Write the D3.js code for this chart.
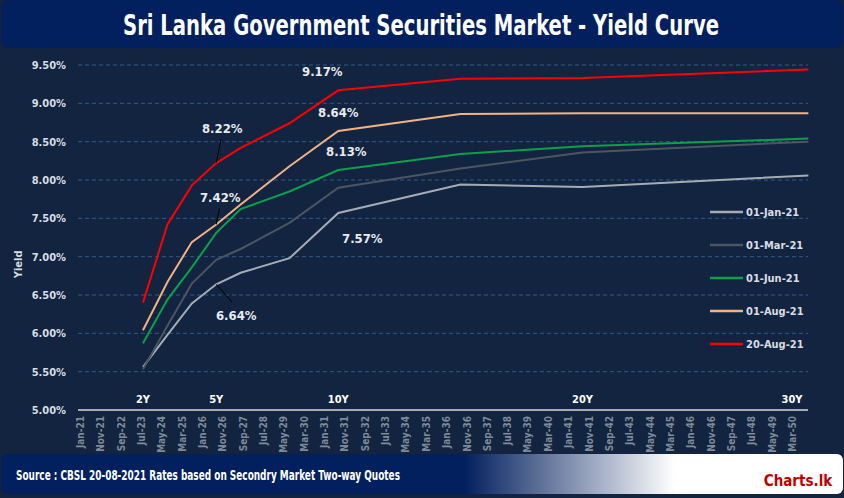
<!DOCTYPE html>
<html><head><meta charset="utf-8">
<script src="https://cdn.jsdelivr.net/npm/d3@7"></script>
<style>
body{margin:0;background:#fff;}
text{font-family:"DejaVu Sans Condensed","Liberation Sans Narrow",sans-serif;font-stretch:condensed;font-weight:bold;}
</style></head><body><div id="chart"></div>
<script>
// tenor dates and yields
var dates = ['2023-08','2024-08','2025-08','2026-08','2027-08','2029-08','2031-08','2036-08','2041-08','2050-11'];
var seriesNames = ['01-Jan-21','01-Mar-21','01-Jun-21','01-Aug-21','20-Aug-21'];
var jan21 = [5.56,5.98,6.39,6.64,6.79,6.98,7.57,7.94,7.91,8.06];
var mar21 = [5.53,6.10,6.65,6.96,7.10,7.44,7.90,8.15,8.36,8.50];
var jun21 = [5.87,6.44,6.86,7.31,7.62,7.85,8.13,8.34,8.44,8.54];
var aug01 = [6.04,6.67,7.19,7.42,7.68,8.18,8.64,8.86,8.87,8.87];
var aug20 = [6.40,7.42,7.93,8.22,8.42,8.74,9.17,9.32,9.33,9.44];
var colors = ['#a6acb4','#4d5560','#0aa14a','#f4b183','#ff0000'];
var yTicks = [5.0,5.5,6.0,6.5,7.0,7.5,8.0,8.5,9.0,9.5];
var tenorLabels = [{d:'2023-08',t:'2Y'},{d:'2026-08',t:'5Y'},{d:'2031-08',t:'10Y'},{d:'2041-08',t:'20Y'},{d:'2050-03',t:'30Y'}];

var W = 844, H = 498;
var svg = d3.select('#chart').append('svg').attr('width', W).attr('height', H);
var parse = d3.timeParse('%Y-%m');

// backgrounds
svg.append('rect').attr('x',0).attr('y',0).attr('width',W).attr('height',H).attr('fill','#12243f');
svg.append('rect').attr('x',1).attr('y',0).attr('width',W-2).attr('height',48).attr('rx',8).attr('fill','#021f5e');
svg.append('text').attr('x',123).attr('y',35).attr('textLength',596).attr('lengthAdjust','spacingAndGlyphs')
	.attr('fill','#fff').style('font-size','28px').text('Sri Lanka Government Securities Market - Yield Curve');

var grad = svg.append('defs').append('linearGradient').attr('id','fg');
grad.append('stop').attr('offset','0%').attr('stop-color','#021f5e');
grad.append('stop').attr('offset','55%').attr('stop-color','#021f5e');
grad.append('stop').attr('offset','80%').attr('stop-color','#ffffff');
grad.append('stop').attr('offset','100%').attr('stop-color','#ffffff');
svg.append('rect').attr('x',1).attr('y',454).attr('width',W-2).attr('height',40).attr('rx',6).attr('fill','url(#fg)');
svg.append('text').attr('x',16).attr('y',480).attr('textLength',384).attr('lengthAdjust','spacingAndGlyphs')
	.attr('fill','#fff').style('font-size','14px')
	.text('Source : CBSL 20-08-2021  Rates based on Secondry Market Two-way Quotes');
svg.append('text').attr('x',798).attr('y',486).attr('text-anchor','middle').attr('fill','#c00000')
	.style('font-size','15px').text('Charts.lk');

var x = d3.scaleTime().domain([parse('2021-01'), parse('2050-03')]).range([80, 792]);
var y = d3.scaleLinear().domain([5, 9.5]).range([410, 65]);

// grid
svg.selectAll('.grid').data(yTicks.slice(1)).enter().append('line')
	.attr('x1',78).attr('x2',808).attr('y1',function(d){return y(d);}).attr('y2',function(d){return y(d);})
	.attr('stroke','#2f5a86').attr('stroke-dasharray','4,3');
svg.append('line').attr('x1',78).attr('x2',808).attr('y1',y(5)).attr('y2',y(5)).attr('stroke','#d9d9d9').attr('stroke-width',1.5);

svg.selectAll('.yl').data(yTicks).enter().append('text')
	.attr('x',66).attr('y',function(d){return y(d)+4;}).attr('text-anchor','end')
	.attr('fill','#d9dde3').style('font-size','11px').text(function(d){return d.toFixed(2)+'%';});
svg.append('text').attr('transform','translate(22,'+y(6.9)+') rotate(-90)').attr('text-anchor','middle')
	.attr('fill','#d9dde3').style('font-size','11px').text('Yield');

// x axis ticks every 10 months
var xt = d3.timeMonth.every(1).range(parse('2021-01'), parse('2050-04')).filter(function(d,i){return i%10===0;});
svg.selectAll('.xl').data(xt).enter().append('text')
	.attr('transform',function(d){return 'translate('+(x(d)+4)+',416) rotate(-90)';})
	.attr('text-anchor','end').attr('fill','#7f8a99').style('font-size','10px')
	.text(function(d){return d3.timeFormat('%b-%y')(d);});
svg.selectAll('.tn').data(tenorLabels).enter().append('text')
	.attr('x',function(d){return x(parse(d.d));}).attr('y',403).attr('text-anchor','middle')
	.attr('fill','#fff').style('font-size','11px').text(function(d){return d.t;});

// lines
var allSeries = [jan21, mar21, jun21, aug01, aug20];
var line = d3.line().x(function(d,i){return x(parse(dates[i]));}).y(function(d){return y(d);});
allSeries.forEach(function(s,k){
	svg.append('path').datum(s).attr('d',line).attr('fill','none')
		.attr('stroke',colors[k]).attr('stroke-width',2);
});

// annotations
var notes = [
	{s:jan21,i:3,dx:20,dy:30,t:'6.64%',lead:true},
	{s:aug01,i:3,dx:4,dy:-22,t:'7.42%',lead:true},
	{s:aug20,i:3,dx:6,dy:-30,t:'8.22%',lead:true},
	{s:aug20,i:6,dx:-16,dy:-14,t:'9.17%'},
	{s:aug01,i:6,dx:0,dy:-14,t:'8.64%'},
	{s:jun21,i:6,dx:8,dy:-14,t:'8.13%'},
	{s:jan21,i:6,dx:24,dy:24,t:'7.57%'}
];
notes.forEach(function(n){
	var px = x(parse(dates[n.i])), py = y(n.s[n.i]);
	if(n.lead){
		svg.append('line').attr('x1',px).attr('y1',py).attr('x2',px+n.dx*0.8).attr('y2',py+(n.dy>0?n.dy-12:n.dy+6))
			.attr('stroke','#000').attr('stroke-width',1);
	}
	svg.append('text').attr('x',px+n.dx).attr('y',py+n.dy+(n.dy>0?6:0)).attr('text-anchor','middle')
		.attr('fill','#e8ebef').style('font-size','13px').text(n.t);
});

// legend
var legend = svg.selectAll('.legend').data(seriesNames).enter().append('g')
	.attr('transform',function(d,i){return 'translate(710,'+(212+i*33)+')';});
legend.append('line').attr('x1',0).attr('x2',33).attr('stroke',function(d,i){return colors[i];}).attr('stroke-width',2.5);
legend.append('text').attr('x',36).attr('y',4).attr('fill','#d9dde3').style('font-size','11px').text(function(d){return d;});
</script></body></html>
